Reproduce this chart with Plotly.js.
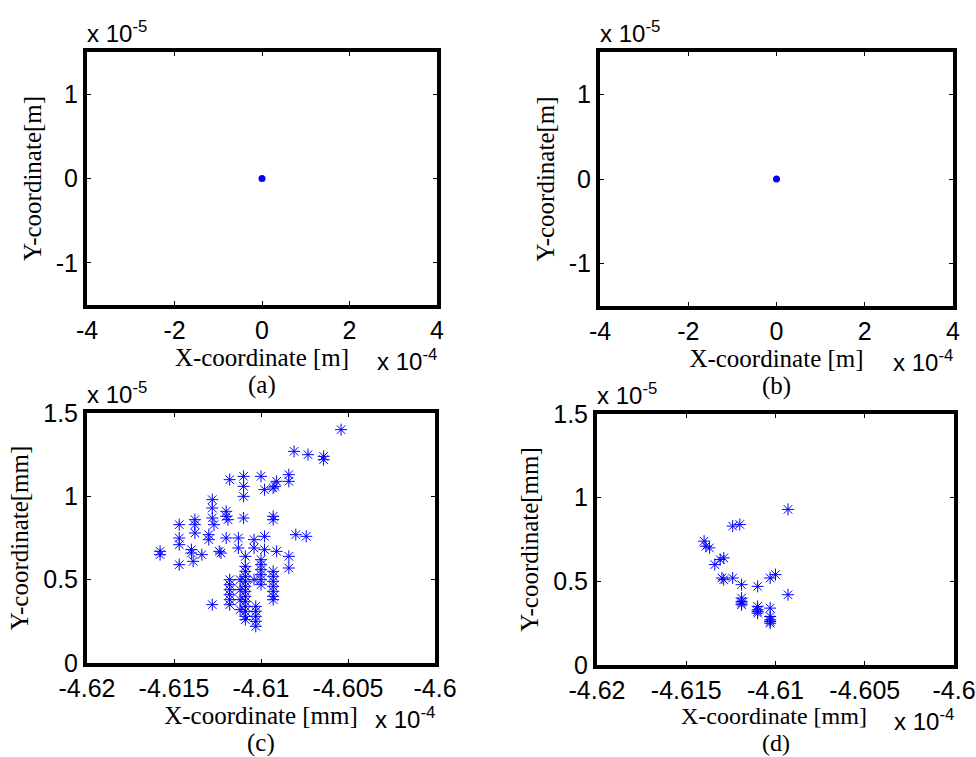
<!DOCTYPE html>
<html>
<head>
<meta charset="utf-8">
<script src="https://cdn.plot.ly/plotly-3.0.1.min.js"></script>
<style>html,body{margin:0;padding:0;background:#fff;}#chart{width:976px;height:757px;}</style>
</head>
<body>
<div id="chart"></div>
<script>
// Panel (a) and (b): single point at origin (x in 1e-4 m, y in 1e-5 m)
var aX = [0];
var aY = [0];
var bX = [0];
var bY = [0];

// Panel (c): x in 1e-4 mm, y in 1e-5 mm
var cX = [-4.6054,-4.6081,-4.6073,-4.6064,-4.6064,-4.6118,-4.6110,-4.6110,-4.6110,-4.6100,-4.6098,-4.6093,-4.6092,-4.6091,-4.6084,-4.6084,
  -4.6128,-4.6128,-4.6128,-4.6127,-4.6120,-4.6120,-4.6119,-4.6110,-4.6093,-4.6093,-4.6147,-4.6138,-4.6138,-4.6138,-4.6130,-4.6130,
  -4.6147,-4.6147,-4.6120,-4.6113,-4.6104,-4.6098,-4.6080,-4.6074,-4.6158,-4.6158,-4.6140,-4.6140,-4.6139,-4.6134,-4.6124,-4.6123,
  -4.6113,-4.6104,-4.6098,-4.6091,-4.6084,-4.6084,-4.6147,-4.6109,
  -4.6109,-4.6109,-4.6109,-4.6109,-4.6109,-4.6109,-4.6109,-4.6109,-4.6109,-4.6109,-4.6109,-4.6109,
  -4.6112,-4.6112,-4.6112,-4.6112,
  -4.6118,-4.6118,-4.6118,-4.6118,-4.6118,-4.6118,
  -4.6100,-4.6100,-4.6100,-4.6100,-4.6100,-4.6100,
  -4.6093,-4.6093,-4.6093,-4.6093,-4.6093,-4.6093,-4.6093,
  -4.6103,-4.6103,-4.6103,-4.6103,-4.6103,
  -4.6128,-4.6104];
var cY = [1.40,1.27,1.25,1.24,1.22,1.10,1.12,1.06,1.00,1.12,1.04,1.05,1.06,1.09,1.13,1.09,
  0.98,0.93,0.87,0.83,0.91,0.88,0.86,0.87,0.88,0.86,0.83,0.86,0.83,0.78,0.77,0.74,
  0.75,0.71,0.75,0.75,0.74,0.76,0.77,0.76,0.67,0.65,0.68,0.66,0.61,0.65,0.67,0.66,
  0.69,0.69,0.68,0.67,0.64,0.57,0.59,0.64,
  0.58,0.55,0.52,0.49,0.46,0.43,0.40,0.37,0.34,0.31,0.28,0.26,
  0.50,0.44,0.38,0.32,
  0.50,0.47,0.44,0.41,0.38,0.35,
  0.62,0.59,0.56,0.53,0.50,0.47,
  0.55,0.52,0.49,0.46,0.43,0.40,0.38,
  0.34,0.31,0.28,0.25,0.22,
  0.35,0.50];

// Panel (d): x in 1e-4 mm, y in 1e-5 mm
var dX = [-4.6093,-4.6124,-4.6120,-4.6140,-4.6139,-4.6137,-4.6129,-4.6131,-4.6134,-4.6130,-4.6129,-4.6124,-4.6119,-4.6110,-4.6103,-4.6100,-4.6093,
  -4.6119,-4.6119,-4.6119,-4.6119,-4.6110,-4.6110,-4.6110,-4.6110,-4.6103,-4.6103,-4.6103,-4.6103,-4.6103];
var dY = [0.93,0.83,0.84,0.74,0.71,0.70,0.64,0.63,0.60,0.52,0.51,0.52,0.48,0.47,0.52,0.54,0.42,
  0.40,0.38,0.37,0.36,0.35,0.33,0.32,0.31,0.34,0.29,0.27,0.26,0.25];

var abTicks = [-4,-2,0,2,4];
var abTickText = ['-4','-2','0','2','4'];
var abYTicks = [-1,0,1];
var abYTickText = ['-1','0','1'];
var cdTicks = [-4.62,-4.615,-4.61,-4.605,-4.6];
var cdTickText = ['-4.62','-4.615','-4.61','-4.605','-4.6'];
var cdYTicks = [0,0.5,1,1.5];
var cdYTickText = ['0','0.5','1','1.5'];

var W = 976, H = 757;
function fx(p){return p/W;}
function fy(p){return 1-p/H;}

var boxes = {
  a:{x0:87,x1:437,y0:52,y1:305},
  b:{x0:600,x1:953,y0:52,y1:306},
  c:{x0:87,x1:435,y0:413,y1:663},
  d:{x0:597,x1:954,y0:414,y1:665}
};

var tickFont = {family:'Liberation Sans, Arial, sans-serif', size:25, color:'#000'};
var titleFont = {family:'Liberation Serif, Times New Roman, serif', size:25, color:'#000'};

function xax(b, range, tv, tt, title, anchor){
  return {domain:[fx(b.x0),fx(b.x1)], range:range, anchor:anchor, tickvals:tv, ticktext:tt,
    showline:true, linewidth:4, linecolor:'#000', mirror:'ticks', ticks:'inside', ticklen:4, tickwidth:1, tickcolor:'#000',
    showgrid:false, zeroline:false, tickfont:tickFont, title:{text:title, font:titleFont, standoff:2}, fixedrange:true};
}
function yax(b, range, tv, tt, title, anchor){
  return {domain:[fy(b.y1),fy(b.y0)], range:range, anchor:anchor, tickvals:tv, ticktext:tt,
    showline:true, linewidth:4, linecolor:'#000', mirror:'ticks', ticks:'inside', ticklen:4, tickwidth:1, tickcolor:'#000',
    showgrid:false, zeroline:false, tickfont:tickFont, title:{text:title, font:titleFont, standoff:8}, fixedrange:true};
}

var dotMarker = {symbol:'circle', size:7, color:'#0000ff'};
var starMarker = {symbol:'asterisk-open', size:10, color:'#0000ff', line:{color:'#0000ff', width:1}};

var data = [
  {x:aX, y:aY, type:'scatter', mode:'markers', marker:dotMarker, xaxis:'x', yaxis:'y', showlegend:false},
  {x:bX, y:bY, type:'scatter', mode:'markers', marker:dotMarker, xaxis:'x2', yaxis:'y2', showlegend:false},
  {x:cX, y:cY, type:'scatter', mode:'markers', marker:starMarker, xaxis:'x3', yaxis:'y3', showlegend:false},
  {x:dX, y:dY, type:'scatter', mode:'markers', marker:starMarker, xaxis:'x4', yaxis:'y4', showlegend:false}
];

var annFont = {family:'Liberation Sans, Arial, sans-serif', size:24, color:'#000'};
var anns = [];
[['a','(a)'],['b','(b)'],['c','(c)']].forEach(function(p){
  var b = boxes[p[0]];
  anns.push({xref:'paper', yref:'paper', x:fx((b.x0+b.x1)/2), y:fy(b.y1+80), text:p[1], showarrow:false,
    xanchor:'center', yanchor:'middle', font:titleFont});
});
// panel (d): caption and x title placed as annotations so they sit just inside the page
anns.push({xref:'paper', yref:'paper', x:fx((boxes.d.x0+boxes.d.x1)/2 - 2), y:fy(716), text:'X-coordinate [mm]', showarrow:false,
  xanchor:'center', yanchor:'middle', borderpad:0, font:{family:titleFont.family, size:24, color:'#000'}});
anns.push({xref:'paper', yref:'paper', x:fx((boxes.d.x0+boxes.d.x1)/2), y:0, text:'(d)', showarrow:false,
  xanchor:'center', yanchor:'bottom', borderpad:0, font:{family:titleFont.family, size:24, color:'#000'}});
['a','b','c','d'].forEach(function(k){
  var b = boxes[k];
  anns.push({xref:'paper', yref:'paper', x:fx(b.x0-2), y:fy(b.y0-3), text:'x 10<sup>-5</sup>', showarrow:false,
    xanchor:'left', yanchor:'bottom', font:annFont});
  anns.push({xref:'paper', yref:'paper', x:fx(b.x1+2), y:fy(b.y1+38), text:'x 10<sup>-4</sup>', showarrow:false,
    xanchor:'right', yanchor:'top', font:annFont});
});

var layout = {
  width:W, height:H, margin:{l:0,r:0,t:0,b:0}, paper_bgcolor:'#fff', plot_bgcolor:'#fff', showlegend:false,
  xaxis: xax(boxes.a, [-4,4], abTicks, abTickText, 'X-coordinate [m]', 'y'),
  yaxis: yax(boxes.a, [-1.5,1.5], abYTicks, abYTickText, 'Y-coordinate[m]', 'x'),
  xaxis2: xax(boxes.b, [-4,4], abTicks, abTickText, 'X-coordinate [m]', 'y2'),
  yaxis2: yax(boxes.b, [-1.5,1.5], abYTicks, abYTickText, 'Y-coordinate[m]', 'x2'),
  xaxis3: xax(boxes.c, [-4.62,-4.6], cdTicks, cdTickText, 'X-coordinate [mm]', 'y3'),
  yaxis3: yax(boxes.c, [0,1.5], cdYTicks, cdYTickText, 'Y-coordinate[mm]', 'x3'),
  xaxis4: xax(boxes.d, [-4.62,-4.6], cdTicks, cdTickText, '', 'y4'),
  yaxis4: yax(boxes.d, [0,1.5], cdYTicks, cdYTickText, 'Y-coordinate[mm]', 'x4'),
  annotations: anns
};

Plotly.newPlot('chart', data, layout, {displayModeBar:false, staticPlot:true});
</script>
</body>
</html>
